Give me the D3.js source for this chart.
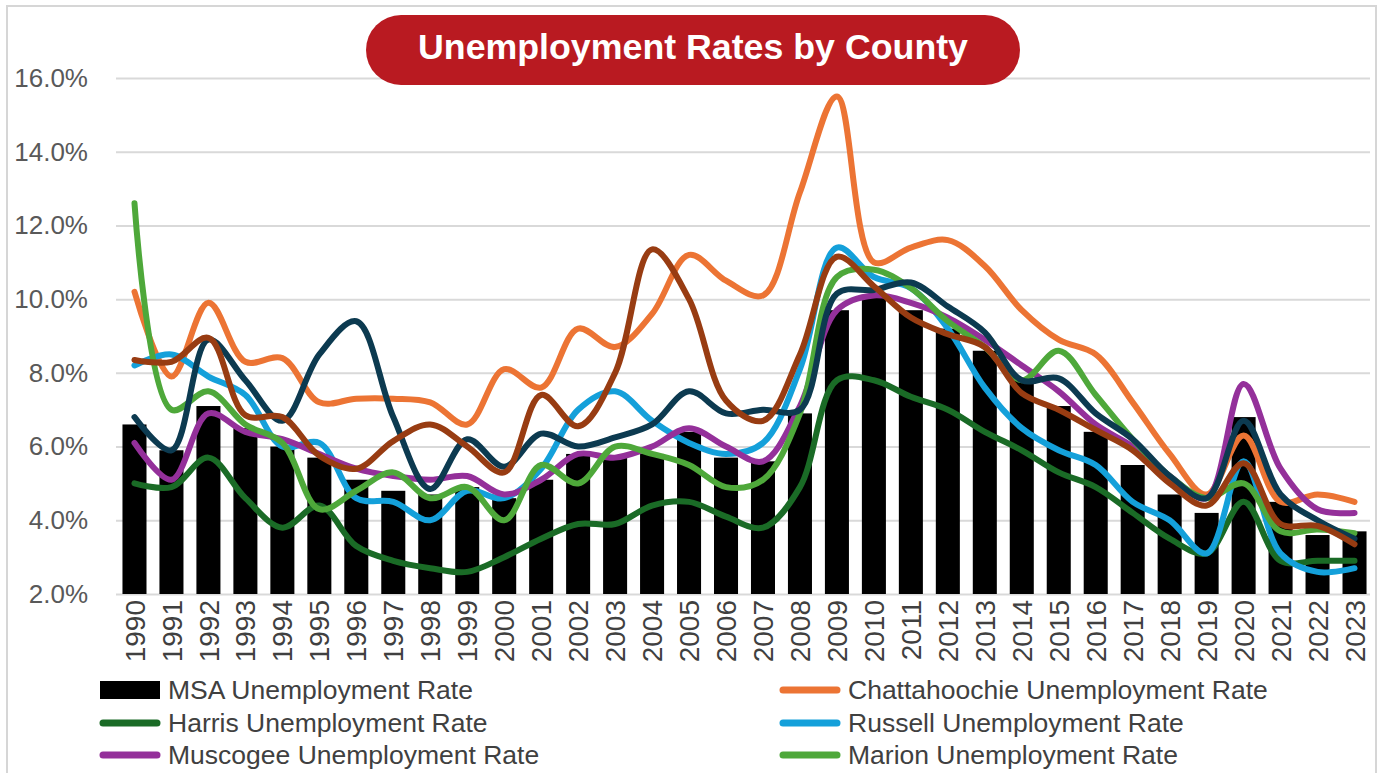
<!DOCTYPE html>
<html>
<head>
<meta charset="utf-8">
<script src="https://cdn.jsdelivr.net/npm/d3@7/dist/d3.min.js"></script>
<style>
  html, body { margin: 0; padding: 0; background: #ffffff; }
  svg { display: block; }
  text { font-family: "Liberation Sans", Arial, sans-serif; }
</style>
</head>
<body>
<svg id="chart" width="1380" height="773"></svg>
<script>
// Years on the category axis
const years = [1990,1991,1992,1993,1994,1995,1996,1997,1998,1999,
               2000,2001,2002,2003,2004,2005,2006,2007,2008,2009,
               2010,2011,2012,2013,2014,2015,2016,2017,2018,2019,
               2020,2021,2022,2023];

// Unemployment rates (%)
const msaRate = [6.6,5.9,7.1,6.5,6.0,5.7,5.1,4.8,4.7,4.9,
                 4.6,5.1,5.8,5.7,5.8,6.4,5.7,5.6,6.9,9.7,
                 10.1,9.7,9.2,8.6,7.8,7.1,6.4,5.5,4.7,4.2,
                 6.8,4.5,3.6,3.7];
const chattahoocheeRate = [10.2,7.9,9.9,8.3,8.4,7.2,7.3,7.3,7.2,6.6,
                           8.1,7.6,9.2,8.7,9.6,11.2,10.5,10.1,12.9,15.5,
                           11.0,11.4,11.6,10.9,9.7,8.9,8.5,7.2,5.8,4.7,
                           6.3,4.5,4.7,4.5];
const harrisRate = [5.0,4.9,5.7,4.6,3.8,4.4,3.3,2.9,2.7,2.6,
                    3.0,3.5,3.9,3.9,4.4,4.5,4.1,3.8,4.9,7.8,
                    7.8,7.35,7.0,6.4,5.9,5.3,4.9,4.2,3.5,3.1,
                    4.5,2.9,2.9,2.9];
const russellRate = [8.2,8.5,7.9,7.4,6.0,6.1,4.6,4.5,4.0,4.8,
                     4.6,5.4,7.0,7.5,6.7,6.1,5.8,6.1,8.1,11.4,
                     10.6,10.3,9.2,7.6,6.5,5.9,5.5,4.5,4.0,3.1,
                     5.6,3.1,2.6,2.7];
const muscogeeRate = [6.1,5.1,6.9,6.4,6.2,5.8,5.4,5.2,5.1,5.2,
                      4.7,5.1,5.8,5.7,6.0,6.5,6.0,5.6,7.1,9.7,
                      10.1,9.9,9.5,8.9,8.2,7.5,6.6,6.0,5.2,4.6,
                      7.7,5.4,4.3,4.2];
const marionRate = [12.6,7.0,7.5,6.6,6.1,4.3,4.8,5.3,4.6,4.9,
                    4.0,5.5,5.0,6.0,5.8,5.5,4.9,5.1,6.9,10.6,
                    10.8,10.3,9.4,8.7,7.8,8.6,7.4,6.2,5.2,4.6,
                    5.0,3.7,3.75,3.65];
const talbotRate = [6.8,5.9,8.9,7.8,6.7,8.5,9.4,6.8,4.85,6.2,
                    5.45,6.35,6.0,6.25,6.6,7.5,6.9,7.0,7.0,10.15,
                    10.25,10.45,9.8,9.1,7.8,7.85,6.9,6.2,5.2,4.6,
                    6.7,4.7,4.0,3.5];
const stewartRate = [8.35,8.3,8.95,6.85,6.8,5.75,5.4,6.15,6.6,6.0,
                     5.3,7.4,6.55,8.0,11.35,10.0,7.25,6.7,8.5,11.15,
                     10.35,9.5,9.05,8.7,7.45,7.0,6.45,5.9,5.0,4.4,
                     5.55,3.9,3.85,3.35];

const yTicks = [2,4,6,8,10,12,14,16];

// Line series in drawing order
const lineNames = ["Chattahoochie Unemployment Rate","Harris Unemployment Rate",
                   "Russell Unemployment Rate","Muscogee Unemployment Rate",
                   "Marion Unemployment Rate","Talbot Unemployment Rate",
                   "Stewart Unemployment Rate"];
const lineValues = [chattahoocheeRate, harrisRate, russellRate, muscogeeRate,
                    marionRate, talbotRate, stewartRate];
const lineColors = ["#EC7434","#1A6B26","#14A0DA","#94309A","#4EA83A","#0C3A50","#983C12"];

// Legend entries (as laid out in two columns)
const legendNames = ["MSA Unemployment Rate","Chattahoochie Unemployment Rate",
                     "Harris Unemployment Rate","Russell Unemployment Rate",
                     "Muscogee Unemployment Rate","Marion Unemployment Rate"];
const legendColors = ["#000000","#EC7434","#1A6B26","#14A0DA","#94309A","#4EA83A"];

const svg = d3.select("#chart");
const W = 1380, H = 773;
const plot = {left: 116, right: 1373, top: 78, bottom: 594};

svg.append("rect").attr("width", W).attr("height", H).attr("fill", "#ffffff");

// Outer chart frame
svg.append("rect")
  .attr("x", 7).attr("y", 6).attr("width", 1369).attr("height", 800)
  .attr("fill", "none").attr("stroke", "#d6d6d6").attr("stroke-width", 2);

const x = d3.scaleBand()
  .domain(years)
  .range([plot.left, plot.right])
  .paddingInner(0.35)
  .paddingOuter(0.175);

const y = d3.scaleLinear().domain([2, 16]).range([plot.bottom, plot.top]);

// Y axis with gridlines
const yAxis = d3.axisLeft(y)
  .tickValues(yTicks)
  .tickSizeInner(-(plot.right - 3 - plot.left))
  .tickSizeOuter(0)
  .tickPadding(28)
  .tickFormat(d => d.toFixed(1) + "%");

const gy = svg.append("g")
  .attr("transform", `translate(${plot.left},0)`)
  .call(yAxis);
gy.select(".domain").remove();
gy.selectAll(".tick line").attr("stroke", "#d9d9d9").attr("stroke-width", 2);
gy.selectAll(".tick text")
  .attr("fill", "#595959")
  .style("font-size", "26px");

// Bars
svg.append("g").selectAll("rect")
  .data(years)
  .join("rect")
  .attr("x", d => x(d))
  .attr("width", x.bandwidth())
  .attr("y", (d, i) => y(msaRate[i]))
  .attr("height", (d, i) => y(2) - y(msaRate[i]))
  .attr("fill", "#000000");

// X axis (rotated year labels)
const xAxis = d3.axisBottom(x).tickSize(0).tickPadding(0);
const gx = svg.append("g")
  .attr("transform", `translate(0,${plot.bottom})`)
  .call(xAxis);
gx.select(".domain").remove();
gx.selectAll(".tick text")
  .attr("fill", "#404040")
  .style("font-size", "28px")
  .attr("text-anchor", "end")
  .attr("transform", "translate(0,6) rotate(-90)")
  .attr("x", 0)
  .attr("y", 0)
  .attr("dy", "0.36em");

// Smoothed lines
const line = d3.line()
  .x((d, i) => x(years[i]) + x.bandwidth() / 2)
  .y(d => y(d))
  .curve(d3.curveCatmullRom.alpha(0.5));

svg.append("g").selectAll("path")
  .data(lineValues)
  .join("path")
  .attr("d", d => line(d))
  .attr("fill", "none")
  .attr("stroke", (d, i) => lineColors[i])
  .attr("stroke-width", 6)
  .attr("stroke-linecap", "round")
  .attr("stroke-linejoin", "round");

// Title pill
const title = svg.append("g");
title.append("rect")
  .attr("x", 366).attr("y", 15).attr("width", 654).attr("height", 70)
  .attr("rx", 35).attr("ry", 35)
  .attr("fill", "#B91A21");
title.append("text")
  .attr("x", 693).attr("y", 59)
  .attr("text-anchor", "middle")
  .attr("fill", "#ffffff")
  .style("font-size", "35px")
  .style("font-weight", "bold")
  .attr("textLength", 550)
  .attr("lengthAdjust", "spacingAndGlyphs")
  .text("Unemployment Rates by County");

// Legend
const legCols = [100, 780];
const legRows = [690, 723, 755];
const leg = svg.append("g");
legendNames.forEach((name, i) => {
  const cx = legCols[i % 2];
  const cy = legRows[Math.floor(i / 2)];
  if (i === 0) {
    leg.append("rect")
      .attr("x", cx).attr("y", cy - 9).attr("width", 60).attr("height", 18)
      .attr("fill", legendColors[i]);
  } else {
    leg.append("line")
      .attr("x1", cx + 3).attr("x2", cx + 57)
      .attr("y1", cy).attr("y2", cy)
      .attr("stroke", legendColors[i])
      .attr("stroke-width", 7)
      .attr("stroke-linecap", "round");
  }
  leg.append("text")
    .attr("x", cx + 68).attr("y", cy)
    .attr("dy", "0.35em")
    .attr("fill", "#404040")
    .style("font-size", "26.5px")
    .text(name);
});
</script>
</body>
</html>
